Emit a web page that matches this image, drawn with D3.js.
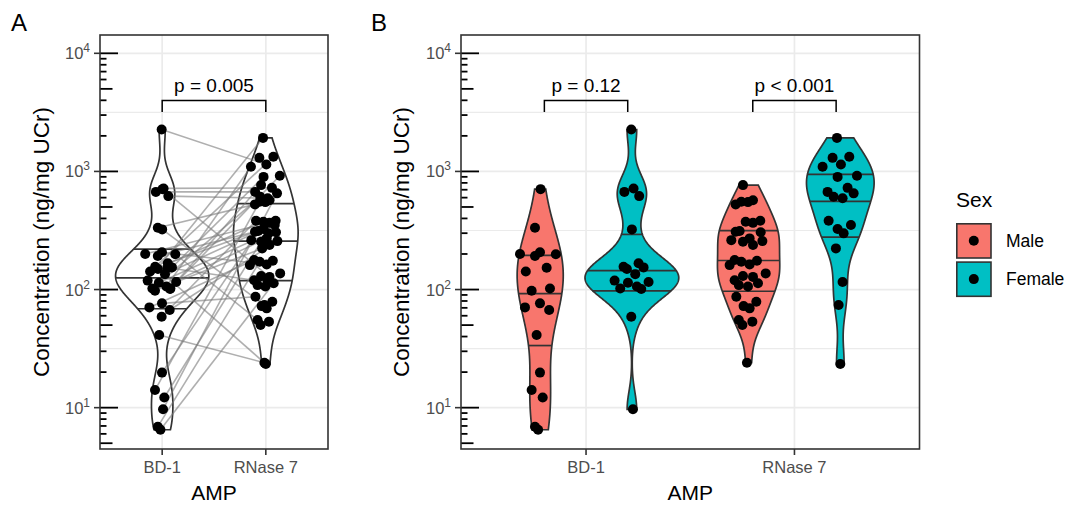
<!DOCTYPE html>
<html>
<head>
<meta charset="utf-8">
<script src="https://cdn.jsdelivr.net/npm/d3@7"></script>
<style>
  body { margin: 0; background: #fff; }
  text { font-family: "Liberation Sans", Arial, sans-serif; }
</style>
</head>
<body>
<svg id="chart" width="1085" height="508"></svg>
<script>
// categories
const amps = ["BD-1", "RNase 7"];
const sexes = ["Male", "Female"];
const yTicks = [10, 100, 1000, 10000];

// concentrations (ng/mg UCr)
const maleBD1 = [708, 333, 200, 192, 207, 199, 142, 153, 97.7, 102, 70.6, 76.4, 67.1, 41.2, 19.8, 14.1, 12.2, 6.9, 6.5];
const femaleBD1 = [2265, 671, 718, 618, 323, 156, 167, 154, 135, 149, 119, 102, 114, 106, 101, 116, 58.9, 9.68];
const maleRNase7 = [766, 526, 553, 550, 571, 375, 367, 382, 308, 313, 305, 262, 254, 271, 238, 257, 178, 161,
                    172, 163, 175, 120, 130, 128, 137, 109, 106, 113, 86.9, 72.4, 69.3, 78.9, 55.2, 50.1, 53.5, 24.0];
const femaleRNase7 = [1923, 1303, 1330, 1146, 1094, 899, 918, 671, 610, 592, 726, 652, 382, 325, 299, 352, 223, 116, 74.0, 23.4];

// subject pairing: BD-1 index i -> RNase 7 index pairs[i]
const malePairs = [23, 1, 7, 8, 19, 32, 5, 21, 13, 0, 16, 28, 15, 35, 9, 2, 12, 18, 27];
const femalePairs = [3, 7, 10, 9, 18, 2, 15, 5, 13, 19, 0, 8, 14, 4, 6, 16, 12, 11];

// horizontal jitter (fraction of a category step)
const maleBD1Jitter = [.002, -.025, -.097, -.025, -.001, .075, -.069, .031, -.041, .047, -.073, -.001, .043, -.017, -.001, -.041, .012, -.025, -.010];
const femaleBD1Jitter = [-.003, -.036, .008, .035, 0, -.040, .032, .056, .016, -.024, -.083, -.056, -.019, .024, .045, .080, -.003, .005];
const maleRNase7Jitter = [-.027, -.062, -.035, -.003, .021, -.014, .021, .056, -.062, -.043, .058, -.083, -.027, .005, .021, .066, -.067, -.091,
                          -.035, .005, .040, -.067, -.027, .021, .082, -.047, -.003, .045, -.059, -.024, .005, .037, -.047, -.030, .018, -.008];
const femaleRNase7Jitter = [-.016, -.037, .043, .003, -.085, -.013, .080, -.061, -.032, .011, .035, .064, -.056, -.013, .016, .051, -.021, .011, -.008, 0];

const pLabelA = ["p = 0.005"];
const pLabelsB = ["p = 0.12", "p < 0.001"];

const svg = d3.select("#chart");
const sexColor = d3.scaleOrdinal().domain(sexes).range(["#F8766D", "#00BFC4"]);

const panelTop = 35, panelBottom = 449;
const y = d3.scaleLog()
    .domain([Math.pow(10, 0.65), Math.pow(10, 4.155)])
    .range([panelBottom, panelTop]);

// gaussian kde on log10 values, trimmed to the data range (like geom_violin)
function kde(values) {
    const s = values.map(v => Math.log10(v)).sort(d3.ascending);
    const n = s.length;
    const sd = d3.deviation(s);
    const iqr = d3.quantile(s, 0.75) - d3.quantile(s, 0.25);
    const bw = 0.9 * Math.min(sd, iqr / 1.34) * Math.pow(n, -0.2);
    const lo = s[0], hi = s[n - 1];
    return d3.range(512).map(i => {
        const t = lo + (hi - lo) * i / 511;
        const d = d3.sum(s, v => Math.exp(-0.5 * ((t - v) / bw) ** 2)) / (n * bw * Math.sqrt(2 * Math.PI));
        return { t, d };
    });
}

function quantileLevels(dens, probs) {
    const total = d3.sum(dens, p => p.d);
    let c = 0;
    const cdf = dens.map(p => (c += p.d) / total);
    return probs.map(q => {
        let i = d3.bisectLeft(cdf, q);
        i = Math.max(1, Math.min(i, cdf.length - 1));
        const f = (q - cdf[i - 1]) / (cdf[i] - cdf[i - 1]);
        return {
            t: dens[i - 1].t + f * (dens[i].t - dens[i - 1].t),
            d: dens[i - 1].d + f * (dens[i].d - dens[i - 1].d)
        };
    });
}

function drawPanel(opt) {
    const g = svg.append("g");
    const x = d3.scalePoint().domain(amps).range([opt.left, opt.right]).padding(0.6);
    const step = x.step();

    // background grid
    const minor = [1.5, 2.5, 3.5].map(k => Math.pow(10, k));
    g.selectAll(".minor").data(minor).enter().append("line")
        .attr("x1", opt.left).attr("x2", opt.right)
        .attr("y1", d => y(d)).attr("y2", d => y(d))
        .attr("stroke", "#EBEBEB").attr("stroke-width", 1.1);
    g.selectAll(".major").data(yTicks).enter().append("line")
        .attr("x1", opt.left).attr("x2", opt.right)
        .attr("y1", d => y(d)).attr("y2", d => y(d))
        .attr("stroke", "#EBEBEB").attr("stroke-width", 1.7);
    g.selectAll(".vgrid").data(amps).enter().append("line")
        .attr("x1", d => x(d)).attr("x2", d => x(d))
        .attr("y1", panelTop).attr("y2", panelBottom)
        .attr("stroke", "#EBEBEB").attr("stroke-width", 1.7);

    // log ticks inside the panel
    const logTicks = [];
    for (let k = 0; k <= 4; k++) {
        for (let m = 1; m <= 9; m++) {
            const v = m * Math.pow(10, k);
            const py = y(v);
            if (py >= panelTop && py <= panelBottom) {
                logTicks.push({ py, len: m === 1 ? 18 : (m === 5 ? 12.5 : 6.5) });
            }
        }
    }
    g.selectAll(".logtick").data(logTicks).enter().append("line")
        .attr("x1", opt.left).attr("x2", d => opt.left + d.len)
        .attr("y1", d => d.py).attr("y2", d => d.py)
        .attr("stroke", "#000").attr("stroke-width", 1.8);

    // violins
    const groups = opt.groups.map(gr => Object.assign({}, gr, { dens: kde(gr.values) }));
    const maxD = d3.max(groups, gr => d3.max(gr.dens, p => p.d));
    const maxHalf = opt.violinWidth * step / 2;
    groups.forEach(gr => {
        gr.cx = x(gr.amp) + gr.dodge * step;
        const area = d3.area()
            .y(p => y(Math.pow(10, p.t)))
            .x0(p => gr.cx - p.d / maxD * maxHalf)
            .x1(p => gr.cx + p.d / maxD * maxHalf);
        g.append("path")
            .attr("d", area(gr.dens))
            .attr("fill", gr.fill)
            .attr("stroke", "#333333")
            .attr("stroke-width", 1.7);
        quantileLevels(gr.dens, [0.25, 0.5, 0.75]).forEach(q => {
            const w = q.d / maxD * maxHalf;
            const py = y(Math.pow(10, q.t));
            g.append("line")
                .attr("x1", gr.cx - w).attr("x2", gr.cx + w)
                .attr("y1", py).attr("y2", py)
                .attr("stroke", "#333333").attr("stroke-width", 1.7);
        });
    });

    // paired lines
    if (opt.links) {
        g.selectAll(".link").data(opt.links).enter().append("line")
            .attr("x1", d => x(amps[0]) + d.j0 * opt.jitterPx)
            .attr("y1", d => y(d.v0))
            .attr("x2", d => x(amps[1]) + d.j1 * opt.jitterPx)
            .attr("y2", d => y(d.v1))
            .attr("stroke", "#7a7a7a")
            .attr("stroke-opacity", 0.6)
            .attr("stroke-width", 1.6);
    }

    // points
    groups.forEach(gr => {
        g.selectAll(null).data(gr.values.map((v, i) => ({ v, j: gr.jitter[i] }))).enter()
            .append("circle")
            .attr("cx", d => gr.cx + d.j * opt.jitterPx)
            .attr("cy", d => y(d.v))
            .attr("r", 5)
            .attr("fill", "#000");
    });

    // p-value brackets
    opt.brackets.forEach(b => {
        const x0 = x(b.amp0) + b.d0 * step, x1 = x(b.amp1) + b.d1 * step;
        g.append("path")
            .attr("d", `M${x0},112 V100.5 H${x1} V112`)
            .attr("fill", "none").attr("stroke", "#000").attr("stroke-width", 1.5);
        g.append("text")
            .attr("x", (x0 + x1) / 2).attr("y", 92)
            .attr("text-anchor", "middle")
            .attr("font-size", "19px")
            .attr("fill", "#000")
            .text(b.label);
    });

    // panel border
    g.append("rect")
        .attr("x", opt.left).attr("y", panelTop)
        .attr("width", opt.right - opt.left).attr("height", panelBottom - panelTop)
        .attr("fill", "none").attr("stroke", "#333333").attr("stroke-width", 1.6);

    // y axis ticks + labels
    g.selectAll(".ytick").data(yTicks).enter().append("line")
        .attr("x1", opt.left - 6).attr("x2", opt.left)
        .attr("y1", d => y(d)).attr("y2", d => y(d))
        .attr("stroke", "#333333").attr("stroke-width", 1.6);
    const yLab = g.selectAll(".ylab").data(yTicks).enter().append("text")
        .attr("x", opt.left - 10).attr("y", d => y(d) + 6)
        .attr("text-anchor", "end")
        .attr("font-size", "16.5px")
        .attr("fill", "#4D4D4D");
    yLab.append("tspan").text("10");
    yLab.append("tspan").attr("dy", "-7").attr("font-size", "12px").text(d => Math.round(Math.log10(d)));

    // x axis ticks + labels
    g.selectAll(".xtick").data(amps).enter().append("line")
        .attr("x1", d => x(d)).attr("x2", d => x(d))
        .attr("y1", panelBottom).attr("y2", panelBottom + 6)
        .attr("stroke", "#333333").attr("stroke-width", 1.6);
    g.selectAll(".xlab").data(amps).enter().append("text")
        .attr("x", d => x(d)).attr("y", 473)
        .attr("text-anchor", "middle")
        .attr("font-size", "16.5px")
        .attr("fill", "#4D4D4D")
        .text(d => d);

    // axis titles
    g.append("text")
        .attr("x", (opt.left + opt.right) / 2).attr("y", 500)
        .attr("text-anchor", "middle")
        .attr("font-size", "21px")
        .text("AMP");
    g.append("text")
        .attr("transform", `translate(${opt.titleX},${(panelTop + panelBottom) / 2}) rotate(-90)`)
        .attr("text-anchor", "middle")
        .attr("font-size", "22.5px")
        .text("Concentration (ng/mg UCr)");

    // tag
    g.append("text")
        .attr("x", opt.tagX).attr("y", 31)
        .attr("font-size", "24px")
        .text(opt.tag);
}

// Panel A: all subjects, paired lines
const linksA = [];
maleBD1.forEach((v, i) => linksA.push({ v0: v, j0: maleBD1Jitter[i], v1: maleRNase7[malePairs[i]], j1: maleRNase7Jitter[malePairs[i]] }));
femaleBD1.forEach((v, i) => linksA.push({ v0: v, j0: femaleBD1Jitter[i], v1: femaleRNase7[femalePairs[i]], j1: femaleRNase7Jitter[femalePairs[i]] }));

drawPanel({
    left: 100, right: 328, titleX: 49, tagX: 11, tag: "A",
    violinWidth: 0.9, jitterPx: 175,
    groups: [
        { amp: "BD-1", dodge: 0, fill: "#fff", values: maleBD1.concat(femaleBD1), jitter: maleBD1Jitter.concat(femaleBD1Jitter) },
        { amp: "RNase 7", dodge: 0, fill: "#fff", values: maleRNase7.concat(femaleRNase7), jitter: maleRNase7Jitter.concat(femaleRNase7Jitter) }
    ],
    links: linksA,
    brackets: [{ amp0: "BD-1", d0: 0, amp1: "RNase 7", d1: 0, label: pLabelA[0] }]
});

// Panel B: split by sex
drawPanel({
    left: 461, right: 919.5, titleX: 409, tagX: 371, tag: "B",
    violinWidth: 0.45, jitterPx: 208.4,
    groups: [
        { amp: "BD-1", dodge: -0.22, fill: sexColor("Male"), values: maleBD1, jitter: maleBD1Jitter },
        { amp: "BD-1", dodge: 0.22, fill: sexColor("Female"), values: femaleBD1, jitter: femaleBD1Jitter },
        { amp: "RNase 7", dodge: -0.22, fill: sexColor("Male"), values: maleRNase7, jitter: maleRNase7Jitter },
        { amp: "RNase 7", dodge: 0.22, fill: sexColor("Female"), values: femaleRNase7, jitter: femaleRNase7Jitter }
    ],
    links: null,
    brackets: amps.map((a, i) => ({ amp0: a, d0: -0.2, amp1: a, d1: 0.2, label: pLabelsB[i] }))
});

// legend
const legend = svg.append("g").attr("transform", "translate(956,0)");
legend.append("text").attr("x", 0).attr("y", 207).attr("font-size", "21px").text("Sex");
const keys = legend.selectAll(".key").data(sexes).enter().append("g")
    .attr("transform", (d, i) => `translate(0,${223 + i * 38.3})`);
keys.append("rect")
    .attr("x", 0.8).attr("y", 0.8).attr("width", 34.2).attr("height", 34.2)
    .attr("fill", d => sexColor(d)).attr("stroke", "#333333").attr("stroke-width", 1.6);
keys.append("circle").attr("cx", 17.8).attr("cy", 17.8).attr("r", 5).attr("fill", "#000");
keys.append("text").attr("x", 50).attr("y", 24).attr("font-size", "17.5px").text(d => d);
</script>
</body>
</html>
